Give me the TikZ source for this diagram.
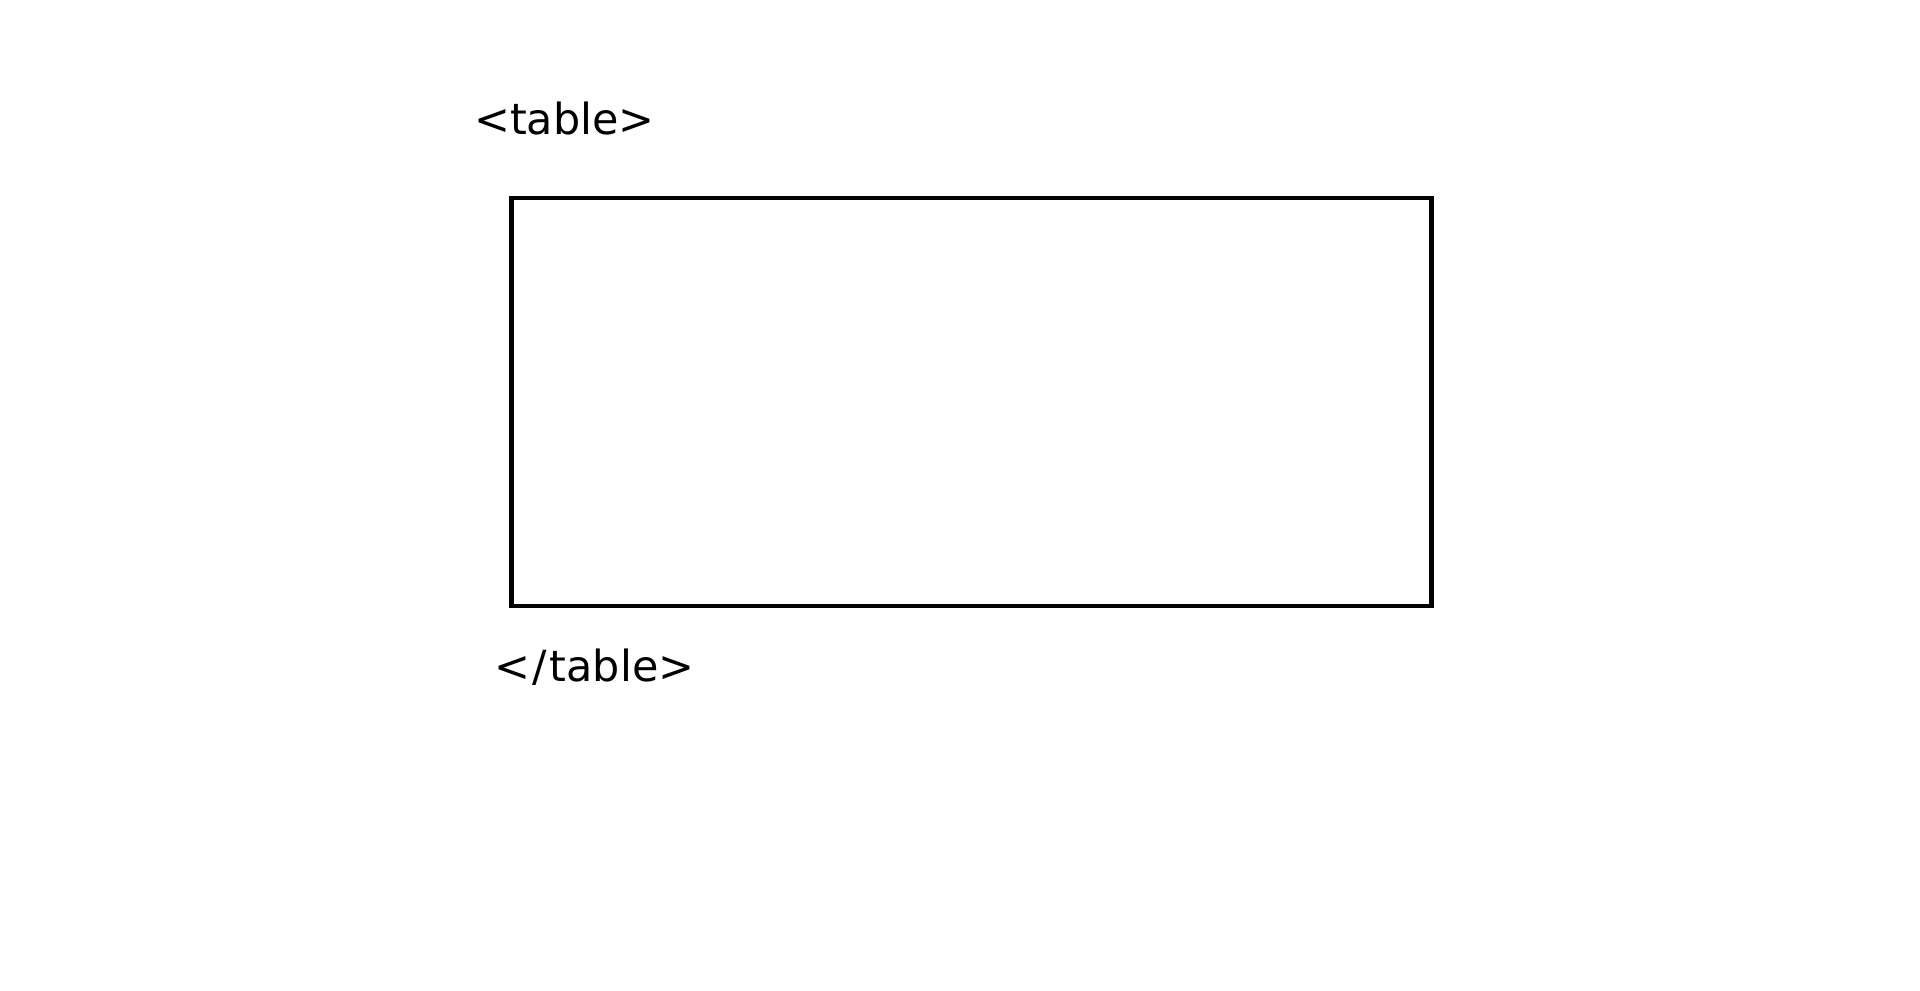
\documentclass[tikz,border=0pt]{standalone}
\usepackage{fontspec}
\setmainfont{DejaVu Sans}
\usetikzlibrary{positioning}
\tikzset{
  tagtext/.style={inner sep=0pt,anchor=base west,font=\fontsize{12.2pt}{14pt}\selectfont},
  tablebox/.style={draw,line width=1.3pt,inner sep=0pt,minimum width=9.19cm,minimum height=4.08cm}
}
\begin{document}
\begin{tikzpicture}[line cap=round,line join=miter,x=0.01cm,y=-0.01cm]
			\useasboundingbox (0,0) rectangle (1920,991);
			\node[tablebox] (tbl) at (971.5,402) {};
			\node[tagtext] (open) at (473.5,135) {<table>};
			\node[tagtext] (close) at (493.5,681) {<\kern0.06em/\kern0.06em table>};
		\end{tikzpicture}
\end{document}
